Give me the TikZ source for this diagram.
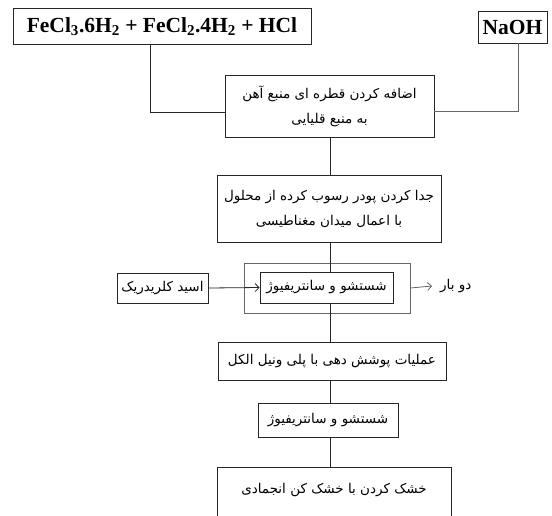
\documentclass[tikz,border=0pt]{standalone}
\usepackage{fontspec}
\setmainfont{Liberation Serif}
\newfontfamily\fa[Script=Arabic]{DejaVu Sans}
\TeXXeTstate=1
\usetikzlibrary{arrows.meta}
\tikzset{
  box/.style={draw=black!85, line width=0.8pt, inner sep=0pt, align=center},
  chem/.style={box, font=\fontsize{21.5}{24}\selectfont\bfseries},
  pbox/.style={box, font=\fa\fontsize{13.5}{25}\selectfont},
  ptext/.style={font=\fa\fontsize{13.5}{25}\selectfont},
  conn/.style={draw=black!85, line width=0.8pt},
  arr/.style={conn, -{Straight Barb[length=4pt,width=8pt]}}
}
\begin{document}
\begin{tikzpicture}[x=1pt,y=-1pt]
\useasboundingbox (0,0) rectangle (552,515);
\coordinate (spine) at (330,0);
\node[chem, minimum width=298pt, minimum height=36pt] (fe) at (162,26.5)
  {FeCl\textsubscript{3}.6H\textsubscript{2} + FeCl\textsubscript{2}.4H\textsubscript{2} + HCl};
\node[chem, minimum width=69pt, minimum height=32pt] (naoh) at (512.5,27) {NaOH};
\node[pbox, minimum width=209pt, minimum height=62pt] (b1) at (329.5,106)
  {\beginR اضافه کردن قطره ای منبع آهن\endR\\ \beginR به منبع قلیایی\endR};
\node[pbox, minimum width=224pt, minimum height=67pt] (b2) at (329,208.5)
  {\beginR جدا کردن پودر رسوب کرده از محلول\endR\\ \beginR با اعمال میدان مغناطیسی\endR};
\node[box, draw=black!60, minimum width=166pt, minimum height=50pt] (outer) at (327,288) {};
\node[pbox, minimum width=133pt, minimum height=31pt] (inner) at (326.5,287.5)
  {\beginR شستشو و سانتریفیوژ\endR};
\node[pbox, minimum width=91pt, minimum height=30pt] (acid) at (162.5,288)
  {\beginR اسید کلریدریک\endR};
\node[ptext, inner sep=8pt, anchor=west] (tw) at (432,286) {\beginR دو بار\endR};
\node[pbox, minimum width=228pt, minimum height=38pt] (b3) at (332,361)
  {\beginR عملیات پوشش دهی با پلی ونیل الکل\endR};
\node[pbox, minimum width=140pt, minimum height=34pt] (b4) at (328,420)
  {\beginR شستشو و سانتریفیوژ\endR};
\node[box, minimum width=234pt, minimum height=56pt] (b5) at (334,495) {};
\node[ptext] (b5t) at (334,490) {\beginR خشک کردن با خشک کن انجمادی\endR};
% connectors
\draw[conn] ([xshift=-12pt]fe.south) |- ([yshift=-6pt]b1.west);
\draw[conn, draw=black!60] ([xshift=5.5pt]naoh.south) |- ([yshift=-5pt]b1.east);
\draw[conn] (spine |- b1.south) -- (spine |- b2.north);
\draw[conn] (spine |- b2.south) -- (spine |- inner.north);
\draw[conn] (spine |- inner.south) -- (spine |- b3.north);
\draw[conn] (spine |- b3.south) -- (spine |- b4.north);
\draw[conn] (spine |- b4.south) -- (spine |- b5.north);
\draw[arr] (acid.east) -- (inner.west);
\draw[arr, draw=black!60] (outer.east) -- (tw.west);
\end{tikzpicture}
\end{document}
